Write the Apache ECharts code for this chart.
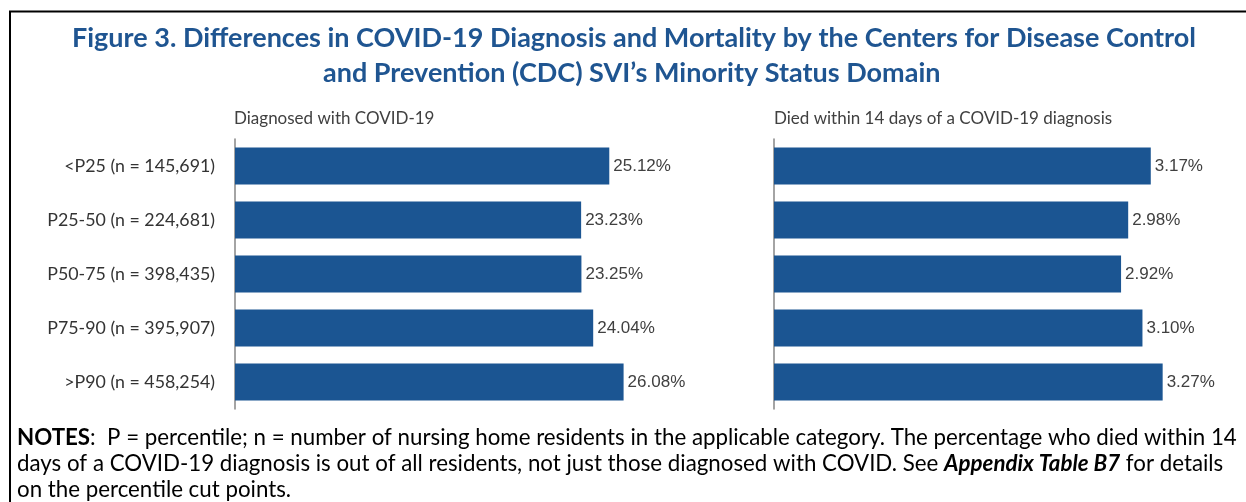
<!DOCTYPE html>
<html>
<head>
<meta charset="utf-8">
<script src="https://cdn.jsdelivr.net/npm/echarts@6/dist/echarts.min.js"></script>
<style>
  html, body { margin: 0; padding: 0; background: #fff; }
  #chart { width: 1246px; height: 502px; }
</style>
</head>
<body>
<div id="chart"></div>
<script>
// categories (top to bottom) and values
const categories = [
  '<P25 (n = 145,691)',
  'P25-50 (n = 224,681)',
  'P50-75 (n = 398,435)',
  'P75-90 (n = 395,907)',
  '>P90 (n = 458,254)'
];
const diagnosed = [25.12, 23.23, 23.25, 24.04, 26.08];
const died14 = [3.17, 2.98, 2.92, 3.10, 3.27];

const BLUE = '#1B5592';
const calibri = 'Lato, "Open Sans", sans-serif';

const chart = echarts.init(document.getElementById('chart'), null, { renderer: 'canvas' });

const valueLabel = {
  show: true,
  position: 'right',
  distance: 4,
  color: '#404040',
  fontFamily: '"Liberation Sans", Arial, sans-serif',
  fontSize: 17,
  formatter: (p) => p.value.toFixed(2) + '%'
};

const headStyle = {
  color: '#1F5591',
  fontFamily: calibri,
  fontWeight: 'bold',
  fontSize: 27
};

const option = {
  animation: false,
  backgroundColor: '#fff',
  title: [
    {
      text: 'Figure 3. Differences in COVID-19 Diagnosis and Mortality by the Centers for Disease Control',
      left: 72,
      top: 25,
      padding: 0,
      textStyle: headStyle
    },
    {
      text: 'and Prevention (CDC) SVI\u2019s Minority Status Domain',
      left: 323,
      top: 60,
      padding: 0,
      textStyle: headStyle
    },
    {
      text: 'Diagnosed with COVID-19',
      left: 234,
      top: 110,
      padding: 0,
      textStyle: { color: '#404040', fontFamily: calibri, fontWeight: 'normal', fontSize: 17 }
    },
    {
      text: 'Died within 14 days of a COVID-19 diagnosis',
      left: 774,
      top: 110,
      padding: 0,
      textStyle: { color: '#404040', fontFamily: calibri, fontWeight: 'normal', fontSize: 17 }
    },
    {
      text: '{b|NOTES}:  P = percentile; n = number of nursing home residents in the applicable category. The percentage who died within 14\n' +
            'days of a COVID-19 diagnosis is out of all residents, not just those diagnosed with COVID. See {bi|Appendix Table B7} for details\n' +
            'on the percentile cut points.',
      left: 17,
      top: 425,
      padding: 0,
      textStyle: {
        color: '#000',
        fontFamily: calibri,
        fontWeight: 'normal',
        fontSize: 22.3,
        lineHeight: 26,
        rich: {
          b: { fontFamily: calibri, fontWeight: 'bold', fontSize: 22.3, color: '#000', lineHeight: 26 },
          bi: { fontFamily: calibri, fontWeight: 'bold', fontStyle: 'italic', fontSize: 22.3, color: '#000', lineHeight: 26 }
        }
      }
    }
  ],
  graphic: [
    {
      type: 'rect',
      shape: { x: 10, y: 11.5, width: 1260, height: 520 },
      style: { fill: 'none', stroke: '#000', lineWidth: 2 },
      silent: true
    }
  ],
  grid: [
    { left: 235, top: 139, width: 447, height: 270 },
    { left: 774, top: 139, width: 416, height: 270 }
  ],
  xAxis: [
    { gridIndex: 0, type: 'value', min: 0, max: 30, show: false },
    { gridIndex: 1, type: 'value', min: 0, max: 3.5, show: false }
  ],
  yAxis: [
    {
      gridIndex: 0,
      type: 'category',
      inverse: true,
      data: categories,
      axisLine: { show: true, lineStyle: { color: '#868686', width: 1.5 } },
      axisTick: { show: false },
      axisLabel: { margin: 20, color: '#333', fontFamily: calibri, fontSize: 17.8 }
    },
    {
      gridIndex: 1,
      type: 'category',
      inverse: true,
      data: categories,
      axisLine: { show: true, lineStyle: { color: '#868686', width: 1.5 } },
      axisTick: { show: false },
      axisLabel: { show: false }
    }
  ],
  series: [
    {
      name: 'Diagnosed with COVID-19',
      type: 'bar',
      xAxisIndex: 0,
      yAxisIndex: 0,
      data: diagnosed,
      barWidth: 37,
      itemStyle: { color: BLUE },
      label: valueLabel
    },
    {
      name: 'Died within 14 days of a COVID-19 diagnosis',
      type: 'bar',
      xAxisIndex: 1,
      yAxisIndex: 1,
      data: died14,
      barWidth: 37,
      itemStyle: { color: BLUE },
      label: valueLabel
    }
  ]
};

chart.setOption(option);
</script>
</body>
</html>
